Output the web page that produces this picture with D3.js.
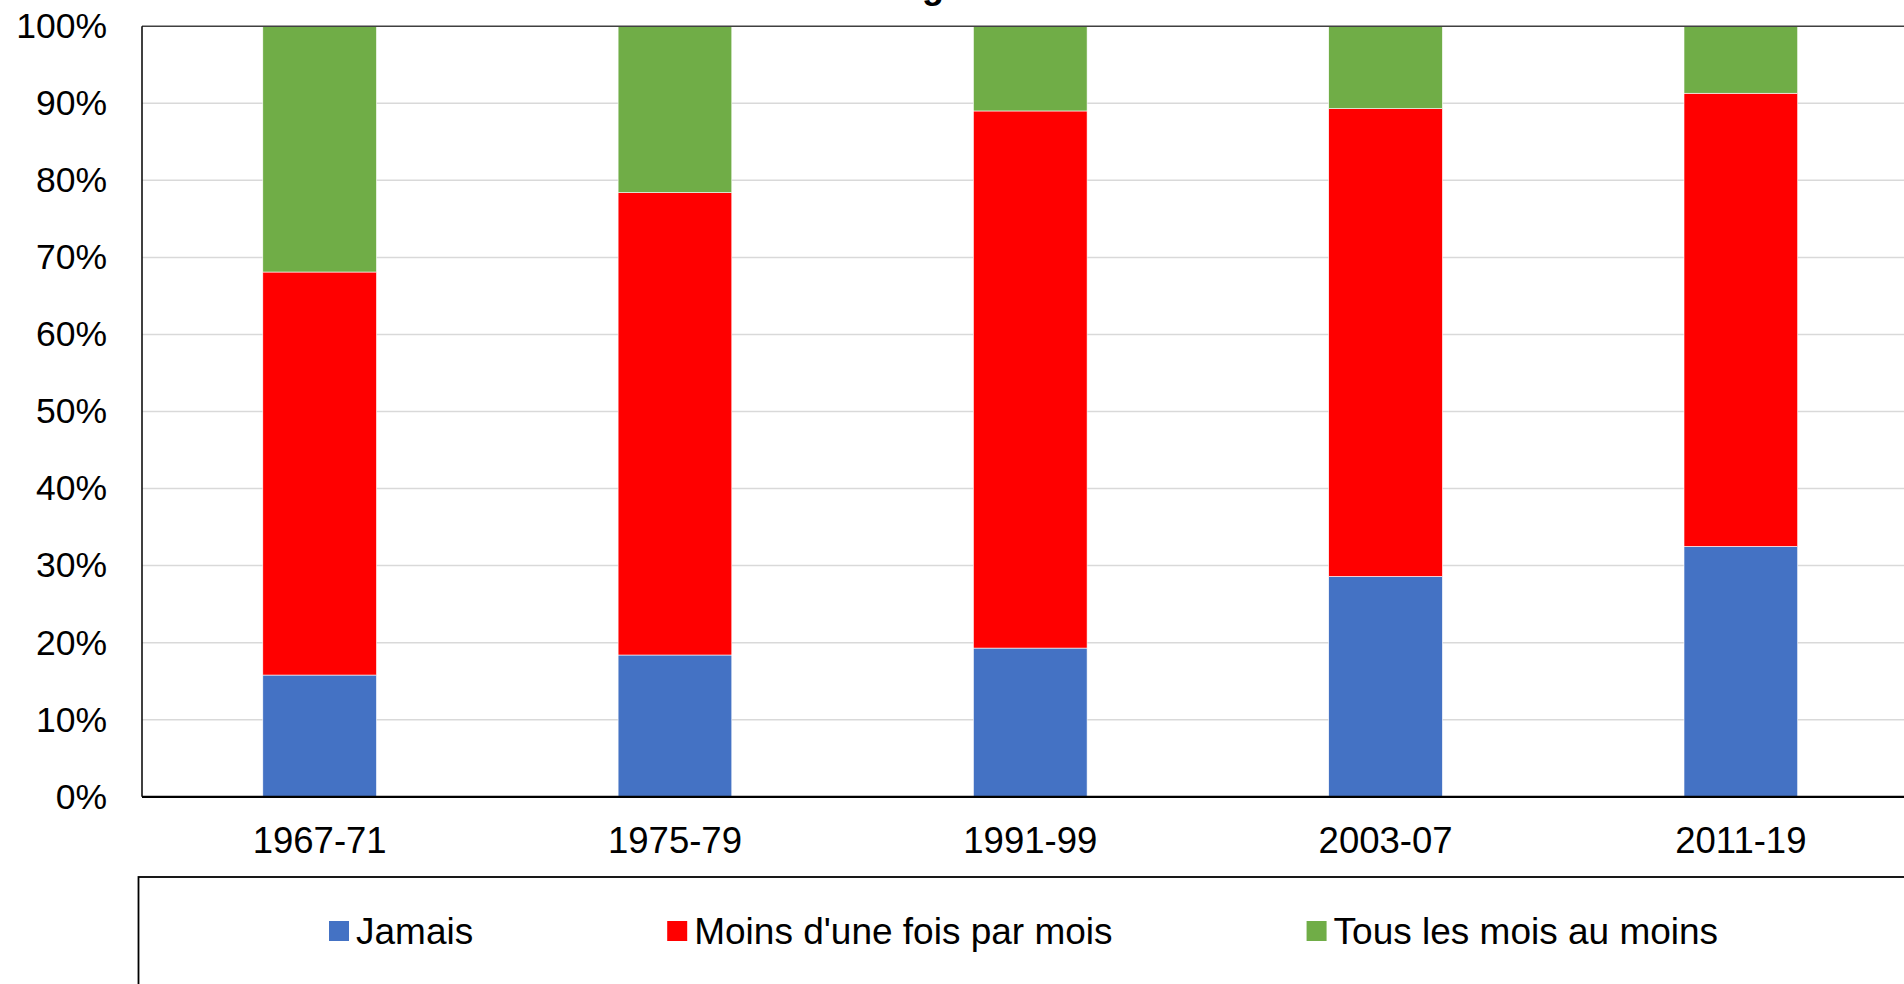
<!DOCTYPE html>
<html>
<head>
<meta charset="utf-8">
<script src="https://cdn.jsdelivr.net/npm/d3@7"></script>
<style>
    body { margin: 0; background: #fff; overflow: hidden; }
    svg { display: block; font-family: "Liberation Sans", Arial, sans-serif; }
    .grid line { stroke: #d9d9d9; stroke-width: 1.5; }
    .tickText { font-size: 35.5px; fill: #000; }
    .xText { font-size: 36.5px; fill: #000; }
    .legendText { font-size: 37px; fill: #000; }
</style>
</head>
<body>
<svg width="1904" height="984"></svg>
<script>
// data (percent)
let periods = ["1967-71", "1975-79", "1991-99", "2003-07", "2011-19"];
let seriesNames = ["Jamais", "Moins d'une fois par mois", "Tous les mois au moins"];
let jamais = [15.8, 18.4, 19.3, 28.6, 32.5];
let moinsUneFois = [52.3, 60.0, 69.7, 60.7, 58.8];
let tousLesMois = [31.9, 21.6, 11.0, 10.7, 8.7];
let yTicks = [0, 10, 20, 30, 40, 50, 60, 70, 80, 90, 100];
let colors = ["#4472c4", "#ff0000", "#70ad47"];
let chartTitle = "Évolution de l'usage";

let svg = d3.select("svg");

let plotLeft = 142, plotTop = 26.2, plotBottom = 796.8;
let step = 355.3;

let x = d3.scaleBand()
    .domain(periods)
    .range([plotLeft, plotLeft + step * periods.length])
    .paddingInner(0.68)
    .paddingOuter(0.34);

let y = d3.scaleLinear()
    .domain([0, 100])
    .range([plotBottom, plotTop]);

//build the rows for the stack
let rows = periods.map(function (p, i) {
    return {
        period: p,
        "Jamais": jamais[i],
        "Moins d'une fois par mois": moinsUneFois[i],
        "Tous les mois au moins": tousLesMois[i]
    };
});
let stacked = d3.stack().keys(seriesNames)(rows);

//title, only its bottom edge is inside the picture
svg.append("text")
    .attr("x", 964)
    .attr("y", -2.5)
    .attr("text-anchor", "end")
    .style("font-size", "36px")
    .style("font-weight", "bold")
    .text(chartTitle);

//gridlines
svg.append("g")
    .attr("class", "grid")
    .selectAll("line")
    .data(yTicks.filter(function (t) { return t > 0 && t < 100; }))
    .join("line")
    .attr("x1", plotLeft)
    .attr("x2", 1904)
    .attr("y1", y)
    .attr("y2", y);

//y axis labels
let yAxis = d3.axisLeft(y)
    .tickValues(yTicks)
    .tickFormat(function (d) { return d + "%"; })
    .tickSize(0)
    .tickPadding(35);
let yAxisG = svg.append("g")
    .attr("transform", "translate(" + plotLeft + ",0)")
    .call(yAxis);
yAxisG.select(".domain").remove();
yAxisG.selectAll("text")
    .attr("class", "tickText")
    .style("font-family", null)
    .style("font-size", null);

//bars
svg.append("g")
    .selectAll("g")
    .data(stacked)
    .join("g")
    .attr("fill", function (s, i) { return colors[i]; })
    .selectAll("rect")
    .data(function (s) { return s; })
    .join("rect")
    .attr("x", function (d) { return x(d.data.period); })
    .attr("y", function (d) { return y(d[1]); })
    .attr("width", x.bandwidth())
    .attr("height", function (d) { return y(d[0]) - y(d[1]); })
    .attr("stroke", "#ffffff")
    .attr("stroke-width", 0.6);

//plot area border
svg.append("line")
    .attr("x1", plotLeft).attr("x2", 1904)
    .attr("y1", plotTop).attr("y2", plotTop)
    .attr("stroke", "#404040").attr("stroke-width", 1.5);
svg.append("line")
    .attr("x1", plotLeft).attr("x2", plotLeft)
    .attr("y1", plotTop).attr("y2", plotBottom)
    .attr("stroke", "#000").attr("stroke-width", 1.5);

//x axis
let xAxis = d3.axisBottom(x).tickSize(0).tickPadding(30);
let xAxisG = svg.append("g")
    .attr("transform", "translate(0," + plotBottom + ")")
    .call(xAxis);
xAxisG.select(".domain")
    .attr("d", "M" + plotLeft + ",0H1904")
    .attr("stroke", "#000")
    .attr("stroke-width", 2.2);
xAxisG.selectAll("text")
    .attr("class", "xText")
    .style("font-family", null)
    .style("font-size", null);

//legend box
svg.append("rect")
    .attr("x", 138.5)
    .attr("y", 877)
    .attr("width", 1800)
    .attr("height", 200)
    .attr("fill", "none")
    .attr("stroke", "#000")
    .attr("stroke-width", 1.8);

//legend entries, laid out one after the other
let legendX = 329;
let legendY = 931;
seriesNames.forEach(function (name, i) {
    let item = svg.append("g");
    item.append("rect")
        .attr("x", legendX)
        .attr("y", legendY - 10)
        .attr("width", 20)
        .attr("height", 20)
        .attr("fill", colors[i]);
    let t = item.append("text")
        .attr("class", "legendText")
        .attr("x", legendX + 27)
        .attr("y", legendY)
        .attr("dy", "0.35em")
        .text(name);
    legendX += 27 + t.node().getComputedTextLength() + 194;
});
</script>
</body>
</html>
